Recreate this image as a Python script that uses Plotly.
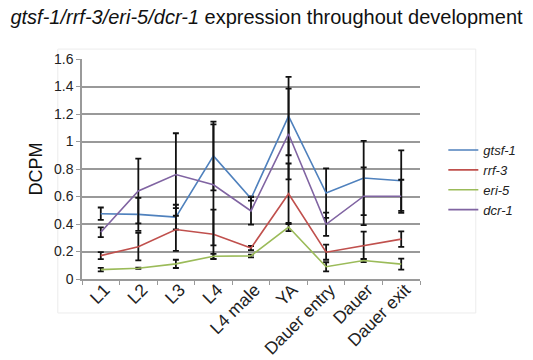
import plotly.graph_objects as go

categories = ["L1", "L2", "L3", "L4", "L4 male", "YA", "Dauer entry", "Dauer", "Dauer exit"]

series_names = ["gtsf-1", "rrf-3", "eri-5", "dcr-1"]

gtsf = [0.475, 0.47, 0.45, 0.895, 0.585, 1.185, 0.625, 0.735, 0.715]
gtsf_err = [0.045, 0.12, 0.09, 0.25, 0.015, 0.285, 0.18, 0.27, 0.22]

rrf = [0.17, 0.235, 0.36, 0.325, 0.225, 0.62, 0.195, 0.245, 0.29]
rrf_err = [0.025, 0.10, 0.155, 0.18, 0.015, 0.22, 0.055, 0.10, 0.057]

eri = [0.068, 0.078, 0.11, 0.165, 0.168, 0.378, 0.089, 0.135, 0.108]
eri_err = [0.013, 0.005, 0.03, 0.018, 0.01, 0.03, 0.033, 0.012, 0.04]

dcr = [0.34, 0.64, 0.76, 0.685, 0.495, 1.055, 0.398, 0.602, 0.602]
dcr_err = [0.035, 0.235, 0.30, 0.44, 0.10, 0.33, 0.085, 0.21, 0.12]

y_ticks = [0, 0.2, 0.4, 0.6, 0.8, 1, 1.2, 1.4, 1.6]
y_tick_labels = ["0", "0.2", "0.4", "0.6", "0.8", "1", "1.2", "1.4", "1.6"]

colors = ["#4f81bd", "#c0504d", "#9bbb59", "#8064a2"]
values = [gtsf, rrf, eri, dcr]
errors = [gtsf_err, rrf_err, eri_err, dcr_err]

FONT = "Liberation Sans, Arial, sans-serif"

fig = go.Figure()
for name, vals, errs, col in zip(series_names, values, errors, colors):
    fig.add_trace(go.Scatter(
        x=categories, y=vals, mode="lines", name="<i>" + name + "</i>",
        line=dict(color=col, width=1.6),
        error_y=dict(type="data", array=errs, visible=True,
                     color="#111111", thickness=1.8, width=3),
    ))

fig.update_layout(
    width=533, height=360,
    margin=dict(l=82, r=74, t=59, b=81),
    paper_bgcolor="white", plot_bgcolor="white",
    font=dict(family=FONT, color="#222222"),
    title=dict(
        text="<i>gtsf-1/rrf-3/eri-5/dcr-1</i> expression throughout development",
        x=0.5, xanchor="center", y=0.953, yanchor="middle",
        font=dict(size=20, color="#111111", family=FONT),
        automargin=False,
    ),
    showlegend=True,
    legend=dict(
        x=1.069, xanchor="left", y=0.45, yanchor="middle",
        font=dict(size=13, family=FONT, color="#222222"),
        itemwidth=30, tracegroupgap=0, bgcolor="rgba(0,0,0,0)",
    ),
    shapes=[dict(type="rect", xref="paper", yref="paper",
                 x0=-0.0716, x1=1.165, y0=-0.1545, y1=1.045,
                 line=dict(color="#ececec", width=1), layer="below")],
)

fig.update_xaxes(
    type="category", tickangle=-45, automargin=False,
    tickfont=dict(size=17.5, family=FONT, color="#222222"),
    ticklabelshift=4, ticklabelstandoff=-8,
    showgrid=False, showline=True, linecolor="#9a9a9a", linewidth=1.5,
    ticks="outside", tickson="boundaries", ticklen=4, tickcolor="#9a9a9a",
    range=[-0.5, 8.5],
)
fig.update_yaxes(
    range=[0, 1.6], tickvals=y_ticks, ticktext=y_tick_labels, automargin=False,
    tickfont=dict(size=14, family=FONT, color="#222222"),
    showgrid=True, gridcolor="#999999", gridwidth=1.8,
    showline=True, linecolor="#9a9a9a", linewidth=1.5,
    ticks="outside", ticklen=4, tickcolor="#9a9a9a",
    zeroline=False,
    title=dict(text="DCPM", font=dict(size=18, family=FONT, color="#111111"), standoff=7),
)

fig.write_html(
    "out.html",
    config={"displayModeBar": False},
    post_script="document.body.style.margin='0';document.body.style.padding='0';",
)
